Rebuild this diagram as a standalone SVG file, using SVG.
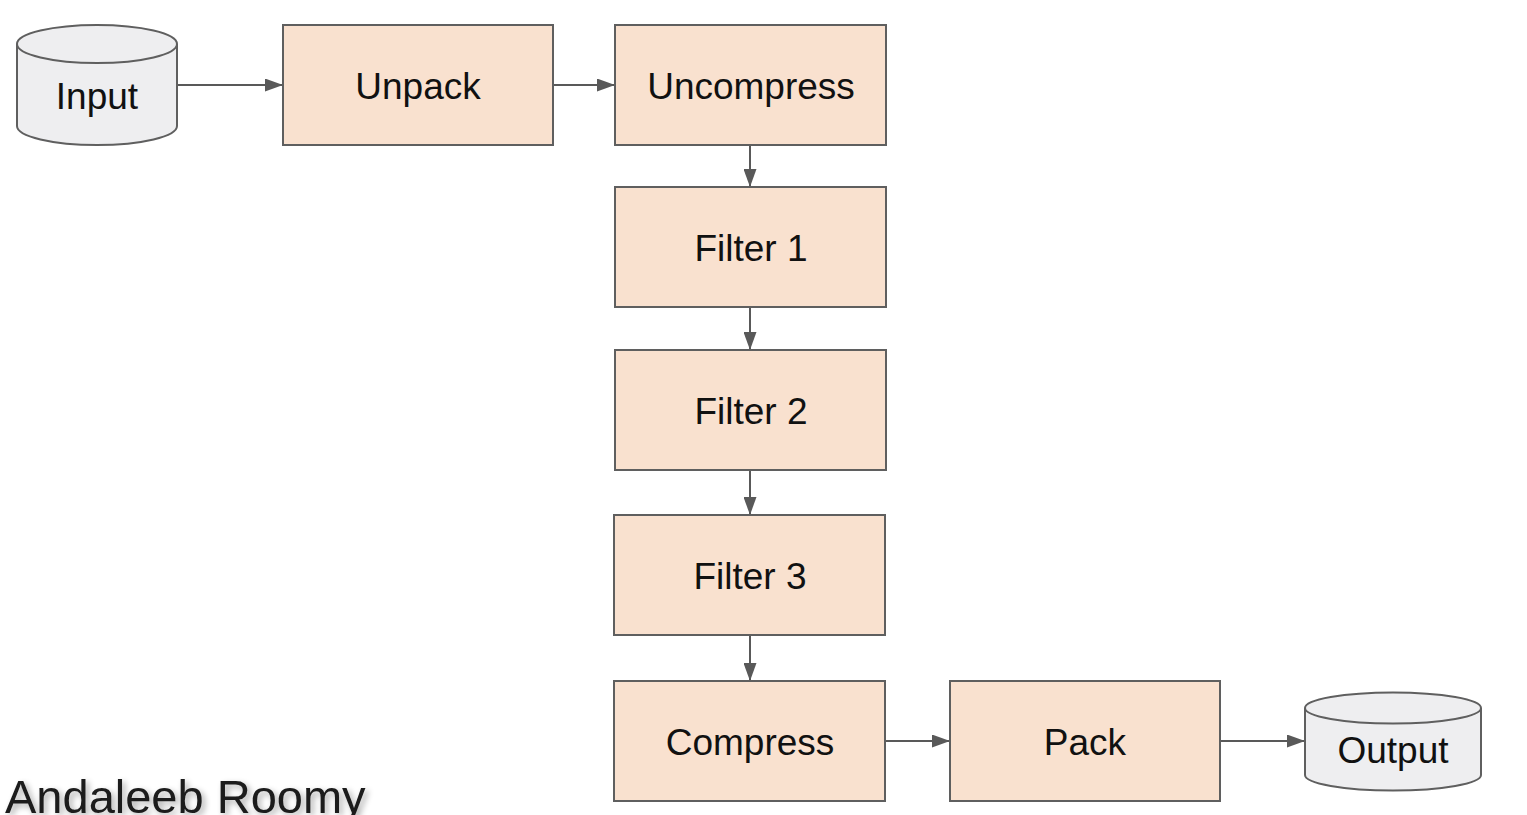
<svg xmlns="http://www.w3.org/2000/svg" width="1527" height="815" viewBox="0 0 1527 815">
<style>
.box{fill:#f9e1cf;stroke:#5f5f5f;stroke-width:2}
.cyl{fill:#eeeef0;stroke:#5f5f5f;stroke-width:2}
.t{font-family:"Liberation Sans",Arial,sans-serif;font-size:37px;fill:#111;text-anchor:middle}
.c{stroke:#595959;stroke-width:2;fill:none;marker-end:url(#ah)}
</style>
<defs>
<marker id="ah" viewBox="0 0 18 13" refX="18" refY="6.5" markerWidth="18" markerHeight="13" markerUnits="userSpaceOnUse" orient="auto">
<path d="M0,0 L18,6.5 L0,13 Z" fill="#595959"/>
</marker>
<filter id="sh" x="-10%" y="-50%" width="120%" height="200%">
<feGaussianBlur in="SourceAlpha" stdDeviation="3"/>
<feOffset dx="3" dy="3" result="b"/>
<feComponentTransfer><feFuncA type="linear" slope="0.35"/></feComponentTransfer>
<feMerge><feMergeNode/><feMergeNode in="SourceGraphic"/></feMerge>
</filter>
</defs>
<g id="connectors">
<line class="c" x1="178" y1="85" x2="283" y2="85"/>
<line class="c" x1="553" y1="85" x2="615" y2="85"/>
<line class="c" x1="750" y1="145" x2="750" y2="187"/>
<line class="c" x1="750" y1="307" x2="750" y2="350"/>
<line class="c" x1="750" y1="470" x2="750" y2="515"/>
<line class="c" x1="750" y1="635" x2="750" y2="681"/>
<line class="c" x1="885" y1="741" x2="950" y2="741"/>
<line class="c" x1="1220" y1="741" x2="1305" y2="741"/>
</g>
<g id="input">
<path class="cyl" d="M17,44 A80,19 0 0 1 177,44 L177,126 A80,19 0 0 1 17,126 Z"/>
<path class="cyl" d="M17,44 A80,19 0 0 0 177,44" fill="none"/>
<text class="t" x="97" y="109">Input</text>
</g>
<g id="unpack">
<rect class="box" x="283" y="25" width="270" height="120"/>
<text class="t" x="418" y="99">Unpack</text>
</g>
<g id="uncompress">
<rect class="box" x="615" y="25" width="271" height="120"/>
<text class="t" x="751" y="99">Uncompress</text>
</g>
<g id="filter1">
<rect class="box" x="615" y="187" width="271" height="120"/>
<text class="t" x="751" y="261">Filter 1</text>
</g>
<g id="filter2">
<rect class="box" x="615" y="350" width="271" height="120"/>
<text class="t" x="751" y="424">Filter 2</text>
</g>
<g id="filter3">
<rect class="box" x="614" y="515" width="271" height="120"/>
<text class="t" x="750" y="589">Filter 3</text>
</g>
<g id="compress">
<rect class="box" x="614" y="681" width="271" height="120"/>
<text class="t" x="750" y="755">Compress</text>
</g>
<g id="pack">
<rect class="box" x="950" y="681" width="270" height="120"/>
<text class="t" x="1085" y="755">Pack</text>
</g>
<g id="output">
<path class="cyl" d="M1305,708 A88,15.5 0 0 1 1481,708 L1481,775 A88,15.5 0 0 1 1305,775 Z"/>
<path class="cyl" d="M1305,708 A88,15.5 0 0 0 1481,708" fill="none"/>
<text class="t" x="1393" y="763">Output</text>
</g>
<g id="author">
<text x="5" y="813" font-family="'Liberation Sans',Arial,sans-serif" font-size="47" fill="#1a1a1a" filter="url(#sh)">Andaleeb Roomy</text>
</g>
</svg>
